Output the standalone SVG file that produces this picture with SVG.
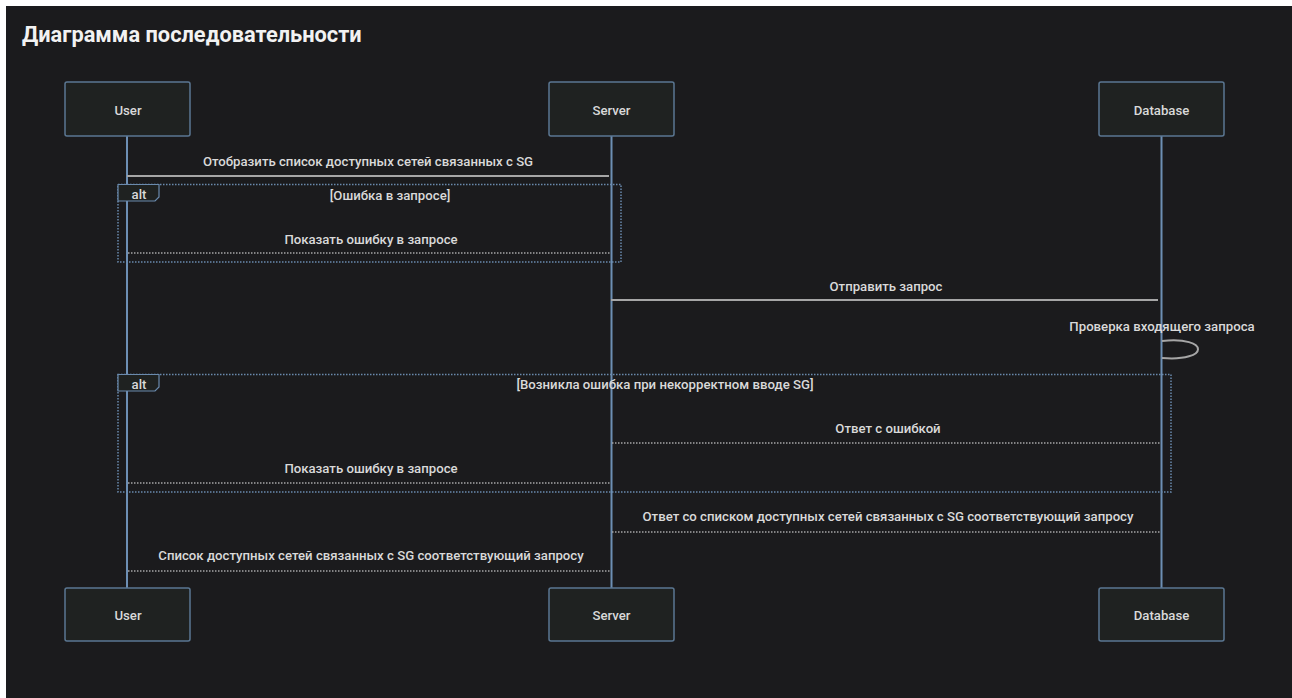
<svg xmlns="http://www.w3.org/2000/svg" width="1292" height="698" viewBox="0 0 1292 698">
<style>
text{font-family:Roboto,"Liberation Sans",sans-serif;fill:#d9d9d9}
.title{font-size:21.8px;font-weight:700;fill:#f2f2f2}
.lbl{font-size:13.2px;font-weight:500;text-anchor:middle}
.node rect{fill:#1f2221;stroke:#5b7792;stroke-width:1.5}
.node text{font-size:13.2px;font-weight:500;text-anchor:middle}
.life{stroke:#6d8fb4;stroke-width:2}
.msg{stroke:#a6a6a6;stroke-width:2;fill:none}
.ret{stroke:#a6a6a6;stroke-width:1.5;stroke-dasharray:1.5 1.5;fill:none}
.frame{fill:none;stroke:#6a8aad;stroke-width:1.5;stroke-dasharray:1.5 1.5}
.tab{fill:#1f2221;stroke:#6a8aad;stroke-width:1.2}
</style>
<rect x="0" y="0" width="1292" height="698" fill="#ffffff"/>
<rect x="6" y="6" width="1286" height="692" fill="#1b1b1d"/>
<text class="title" x="22" y="42">Диаграмма последовательности</text>
<g id="lifelines">
<line class="life" x1="127" y1="136" x2="127" y2="588"/>
<line class="life" x1="611.5" y1="136" x2="611.5" y2="588"/>
<line class="life" x1="1161.5" y1="136" x2="1161.5" y2="588"/>
</g>
<g id="frames">
<rect class="frame" x="118" y="184.5" width="503" height="77.5"/>
<path class="tab" d="M118,184.5 H159 V197 L155,201 H118 Z"/>
<text class="lbl" x="139" y="199">alt</text>
<text class="lbl" x="390" y="200">[Ошибка в запросе]</text>
<rect class="frame" x="118" y="374.5" width="1053" height="117.5"/>
<path class="tab" d="M118,374.5 H159 V387 L155,391 H118 Z"/>
<text class="lbl" x="139" y="389">alt</text>
<text class="lbl" x="665" y="389">[Возникла ошибка при некорректном вводе SG]</text>
</g>
<g id="connectors">
<line class="msg" x1="127" y1="176" x2="609" y2="176"/>
<text class="lbl" x="368" y="166">Отобразить список доступных сетей связанных с SG</text>
<line class="ret" x1="128" y1="253" x2="611" y2="253"/>
<text class="lbl" x="371" y="244">Показать ошибку в запросе</text>
<line class="msg" x1="611" y1="300" x2="1158" y2="300"/>
<text class="lbl" x="886" y="291">Отправить запрос</text>
<path class="msg" d="M1162,341 C1210,336 1210,362 1162,358" stroke-width="1.5"/>
<text class="lbl" x="1162" y="331">Проверка входящего запроса</text>
<line class="ret" x1="612" y1="443" x2="1161" y2="443"/>
<text class="lbl" x="888" y="433">Ответ с ошибкой</text>
<line class="ret" x1="128" y1="483" x2="611" y2="483"/>
<text class="lbl" x="371" y="473">Показать ошибку в запросе</text>
<line class="ret" x1="612" y1="532" x2="1161" y2="532"/>
<text class="lbl" x="888" y="521">Ответ со списком доступных сетей связанных с SG соответствующий запросу</text>
<line class="ret" x1="128" y1="571" x2="611" y2="571"/>
<text class="lbl" x="371" y="560">Список доступных сетей связанных с SG соответствующий запросу</text>
</g>
<g id="user-top" class="node"><rect x="65" y="82" width="125" height="54" rx="2"/><text x="128" y="115">User</text></g>
<g id="server-top" class="node"><rect x="549" y="82" width="125" height="54" rx="2"/><text x="611.5" y="115">Server</text></g>
<g id="database-top" class="node"><rect x="1099" y="82" width="125" height="54" rx="2"/><text x="1161.5" y="115">Database</text></g>
<g id="user-bottom" class="node"><rect x="65" y="588" width="125" height="53" rx="2"/><text x="128" y="620">User</text></g>
<g id="server-bottom" class="node"><rect x="549" y="588" width="125" height="53" rx="2"/><text x="611.5" y="620">Server</text></g>
<g id="database-bottom" class="node"><rect x="1099" y="588" width="125" height="53" rx="2"/><text x="1161.5" y="620">Database</text></g>
</svg>
